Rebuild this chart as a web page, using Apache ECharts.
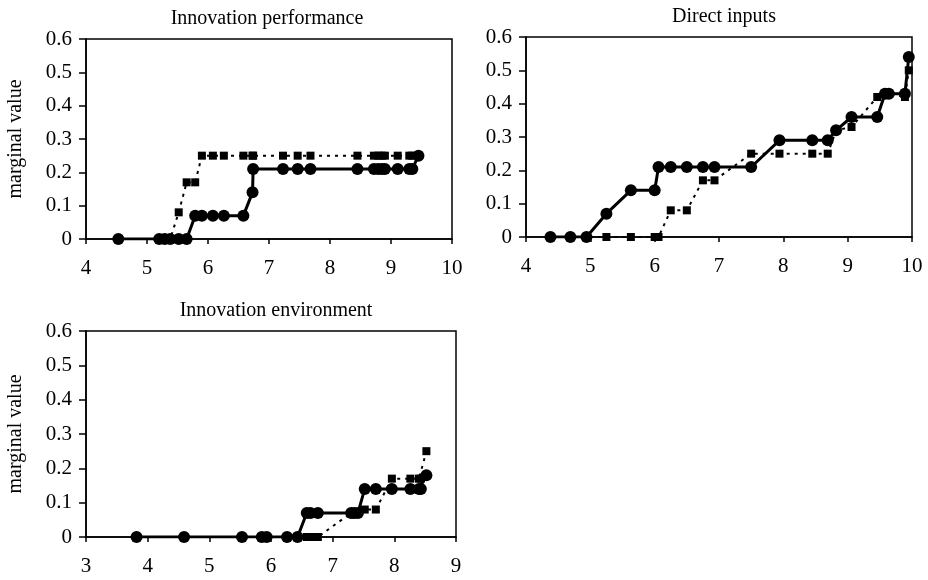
<!DOCTYPE html>
<html>
<head>
<meta charset="utf-8">
<script src="https://cdn.jsdelivr.net/npm/echarts@6/dist/echarts.min.js"></script>
<style>html,body{margin:0;padding:0;background:#fff}#c{width:928px;height:580px}</style>
</head>
<body>
<div id="c"></div>
<script>
// Panel titles
const titles = ['Innovation performance', 'Direct inputs', 'Innovation environment'];
const yTicks = [0, 0.1, 0.2, 0.3, 0.4, 0.5, 0.6];

// Innovation performance
const perfX      = [4.53, 5.20, 5.29, 5.38, 5.52, 5.65, 5.79, 5.90, 6.08, 6.26, 6.58, 6.73, 6.74, 7.23, 7.47, 7.68, 8.45, 8.72, 8.79, 8.85, 8.90, 9.11, 9.30, 9.35, 9.45];
const perfSolid  = [0, 0, 0, 0, 0, 0, 0.07, 0.07, 0.07, 0.07, 0.07, 0.14, 0.21, 0.21, 0.21, 0.21, 0.21, 0.21, 0.21, 0.21, 0.21, 0.21, 0.21, 0.21, 0.25];
const perfDashed = [0, 0, 0, 0, 0.08, 0.17, 0.17, 0.25, 0.25, 0.25, 0.25, 0.25, 0.25, 0.25, 0.25, 0.25, 0.25, 0.25, 0.25, 0.25, 0.25, 0.25, 0.25, 0.25, 0.25];

// Direct inputs
const inpX      = [4.38, 4.69, 4.94, 5.25, 5.63, 6.00, 6.06, 6.25, 6.50, 6.75, 6.93, 7.50, 7.94, 8.45, 8.69, 8.82, 9.06, 9.46, 9.58, 9.64, 9.89, 9.95];
const inpSolid  = [0, 0, 0, 0.07, 0.14, 0.14, 0.21, 0.21, 0.21, 0.21, 0.21, 0.21, 0.29, 0.29, 0.29, 0.32, 0.36, 0.36, 0.43, 0.43, 0.43, 0.54];
const inpDashed = [0, 0, 0, 0, 0, 0, 0, 0.08, 0.08, 0.17, 0.17, 0.25, 0.25, 0.25, 0.25, 0.32, 0.33, 0.42, 0.43, 0.43, 0.42, 0.50];

// Innovation environment
const envX      = [3.82, 4.59, 5.53, 5.85, 5.93, 6.26, 6.43, 6.58, 6.64, 6.76, 7.30, 7.35, 7.41, 7.52, 7.70, 7.96, 8.26, 8.40, 8.43, 8.52];
const envSolid  = [0, 0, 0, 0, 0, 0, 0, 0.07, 0.07, 0.07, 0.07, 0.07, 0.07, 0.14, 0.14, 0.14, 0.14, 0.14, 0.14, 0.18];
const envDashed = [0, 0, 0, 0, 0, 0, 0, 0, 0, 0, 0.07, 0.07, 0.07, 0.08, 0.08, 0.17, 0.17, 0.17, 0.17, 0.25];

const xRanges = [[4, 10], [4, 10], [3, 9]];

const FONT = 'Liberation Serif';
const grids = [
  {left: 86, top: 39, width: 366, height: 200},
  {left: 526, top: 37, width: 386, height: 200},
  {left: 86, top: 331, width: 370, height: 206}
];
const pair = (xs, ys) => xs.map((x, i) => [x, ys[i]]);

const chart = echarts.init(document.getElementById('c'), null, {renderer: 'canvas'});
const option = {
  animation: false,
  backgroundColor: '#fff',
  title: [
    {text: titles[0], left: 262, top: 4, textAlign: 'center'},
    {text: titles[1], left: 719, top: 2, textAlign: 'center'},
    {text: titles[2], left: 271, top: 296, textAlign: 'center'}
  ].map(t => Object.assign(t, {textStyle: {fontFamily: FONT, fontSize: 20, fontWeight: 'normal', color: '#000'}})),
  grid: grids.map(g => Object.assign({}, g, {show: true, borderColor: '#000', borderWidth: 1.5, backgroundColor: '#fff'})),
  xAxis: xRanges.map((r, i) => ({
    type: 'value', gridIndex: i, min: r[0], max: r[1], interval: 1,
    axisLine: {show: true, onZero: false, lineStyle: {color: '#000', width: 1.5}},
    axisTick: {show: true, length: 5, lineStyle: {color: '#000', width: 1.5}},
    axisLabel: {fontFamily: FONT, fontSize: 21, color: '#000', margin: 19},
    splitLine: {show: false}
  })),
  yAxis: [0, 1, 2].map(i => ({
    type: 'value', gridIndex: i, min: yTicks[0], max: yTicks[yTicks.length - 1], interval: 0.1,
    name: i === 1 ? '' : 'marginal value',
    nameLocation: 'middle', nameRotate: 90, nameGap: 60,
    nameTextStyle: {fontFamily: FONT, fontSize: 20, color: '#000'},
    axisLine: {show: true, lineStyle: {color: '#000', width: 1.5}},
    axisTick: {show: true, length: 7, lineStyle: {color: '#000', width: 1.5}},
    axisLabel: {fontFamily: FONT, fontSize: 21, color: '#000', margin: 14},
    splitLine: {show: false}
  })),
  series: []
};
const sets = [[perfX, perfSolid, perfDashed], [inpX, inpSolid, inpDashed], [envX, envSolid, envDashed]];
sets.forEach((s, i) => {
  option.series.push({
    type: 'line', xAxisIndex: i, yAxisIndex: i, data: pair(s[0], s[2]),
    symbol: 'rect', symbolSize: 8, showAllSymbol: true, z: 2,
    itemStyle: {color: '#000'},
    lineStyle: {color: '#000', width: 2, type: [3, 5]}
  });
  option.series.push({
    type: 'line', xAxisIndex: i, yAxisIndex: i, data: pair(s[0], s[1]),
    symbol: 'circle', symbolSize: 12, showAllSymbol: true, z: 3,
    itemStyle: {color: '#000'},
    lineStyle: {color: '#000', width: 3}
  });
});
chart.setOption(option);
</script>
</body>
</html>
